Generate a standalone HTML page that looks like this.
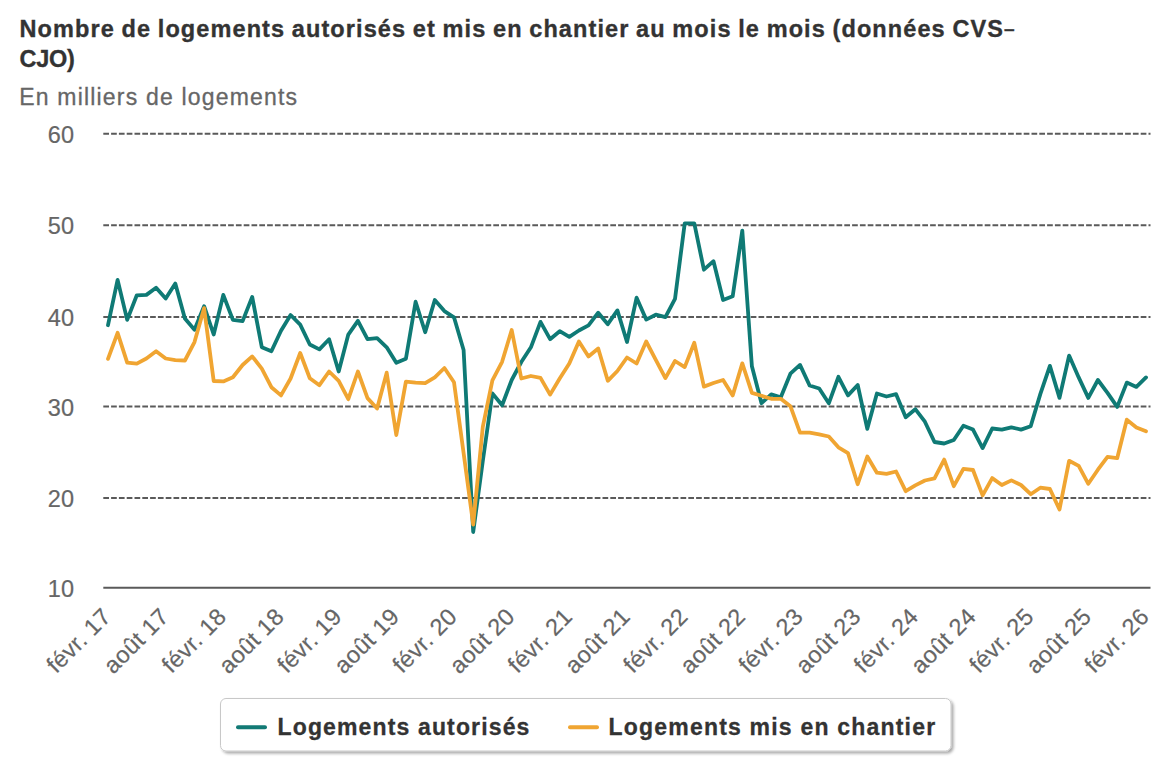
<!DOCTYPE html>
<html><head><meta charset="utf-8"><style>
html,body{margin:0;padding:0;background:#fff;width:1170px;height:780px;overflow:hidden}
svg{display:block;font-family:"Liberation Sans",sans-serif}
</style></head><body>
<svg width="1170" height="780" viewBox="0 0 1170 780">
<defs><filter id="sh" x="-5%" y="-30%" width="110%" height="170%"><feGaussianBlur in="SourceAlpha" stdDeviation="1.5"/><feOffset dx="1.5" dy="2" result="b"/><feComponentTransfer><feFuncA type="linear" slope="0.35"/></feComponentTransfer><feMerge><feMergeNode/><feMergeNode in="SourceGraphic"/></feMerge></filter></defs>
<rect width="1170" height="780" fill="#fff"/>
<g font-weight="bold" font-size="23.5" fill="#333" stroke="#333" stroke-width="0.35">
<text x="19.5" y="37.2" letter-spacing="1.1" word-spacing="-1">Nombre de logements autorisés et mis en chantier au mois le mois (données CVS<tspan font-size="19" dy="-2.5">–</tspan></text>
<text x="19.5" y="67.1" letter-spacing="-0.3">CJO)</text>
</g>
<text x="19.3" y="105.3" font-size="23" fill="#666666" stroke="#666666" stroke-width="0.3" letter-spacing="1.18">En milliers de logements</text>
<g><line x1="103.3" y1="133.65" x2="1150.5" y2="133.65" stroke="#5a5a5a" stroke-width="2" stroke-dasharray="5.7,2.1"/><line x1="103.3" y1="225.2" x2="1150.5" y2="225.2" stroke="#5a5a5a" stroke-width="2" stroke-dasharray="5.7,2.1"/><line x1="103.3" y1="316.9" x2="1150.5" y2="316.9" stroke="#5a5a5a" stroke-width="2" stroke-dasharray="5.7,2.1"/><line x1="103.3" y1="406.6" x2="1150.5" y2="406.6" stroke="#5a5a5a" stroke-width="2" stroke-dasharray="5.7,2.1"/><line x1="103.3" y1="498.1" x2="1150.5" y2="498.1" stroke="#5a5a5a" stroke-width="2" stroke-dasharray="5.7,2.1"/><line x1="103.3" y1="587.8" x2="1150.5" y2="587.8" stroke="#5a5a5a" stroke-width="2"/></g>
<g font-size="23.5" fill="#666666" stroke="#666666" stroke-width="0.2"><text x="74" y="142.6" text-anchor="end">60</text><text x="74" y="234.1" text-anchor="end">50</text><text x="74" y="325.8" text-anchor="end">40</text><text x="74" y="415.5" text-anchor="end">30</text><text x="74" y="507.0" text-anchor="end">20</text><text x="74" y="596.7" text-anchor="end">10</text></g>
<g font-size="23.5" fill="#666666" stroke="#666666" stroke-width="0.2"><text transform="translate(112.5,618) rotate(-45)" text-anchor="end" letter-spacing="0.3">févr. 17</text><text transform="translate(170.2,618) rotate(-45)" text-anchor="end" letter-spacing="0.3">août 17</text><text transform="translate(227.8,618) rotate(-45)" text-anchor="end" letter-spacing="0.3">févr. 18</text><text transform="translate(285.5,618) rotate(-45)" text-anchor="end" letter-spacing="0.3">août 18</text><text transform="translate(343.2,618) rotate(-45)" text-anchor="end" letter-spacing="0.3">févr. 19</text><text transform="translate(400.8,618) rotate(-45)" text-anchor="end" letter-spacing="0.3">août 19</text><text transform="translate(458.5,618) rotate(-45)" text-anchor="end" letter-spacing="0.3">févr. 20</text><text transform="translate(516.2,618) rotate(-45)" text-anchor="end" letter-spacing="0.3">août 20</text><text transform="translate(573.8,618) rotate(-45)" text-anchor="end" letter-spacing="0.3">févr. 21</text><text transform="translate(631.5,618) rotate(-45)" text-anchor="end" letter-spacing="0.3">août 21</text><text transform="translate(689.2,618) rotate(-45)" text-anchor="end" letter-spacing="0.3">févr. 22</text><text transform="translate(746.8,618) rotate(-45)" text-anchor="end" letter-spacing="0.3">août 22</text><text transform="translate(804.5,618) rotate(-45)" text-anchor="end" letter-spacing="0.3">févr. 23</text><text transform="translate(862.2,618) rotate(-45)" text-anchor="end" letter-spacing="0.3">août 23</text><text transform="translate(919.8,618) rotate(-45)" text-anchor="end" letter-spacing="0.3">févr. 24</text><text transform="translate(977.5,618) rotate(-45)" text-anchor="end" letter-spacing="0.3">août 24</text><text transform="translate(1035.2,618) rotate(-45)" text-anchor="end" letter-spacing="0.3">févr. 25</text><text transform="translate(1092.8,618) rotate(-45)" text-anchor="end" letter-spacing="0.3">août 25</text><text transform="translate(1150.5,618) rotate(-45)" text-anchor="end" letter-spacing="0.3">févr. 26</text></g>
<polyline points="108.0,325.2 117.6,279.9 127.2,319.9 136.8,295.3 146.4,294.9 156.1,287.7 165.7,298.6 175.3,283.6 184.9,318.5 194.5,329.7 204.1,306.2 213.7,334.5 223.3,294.9 232.9,319.9 242.6,321.1 252.2,296.9 261.8,347.2 271.4,351.3 281.0,330.8 290.6,315.0 300.2,324.7 309.8,344.5 319.4,349.4 329.1,339.2 338.7,371.5 348.3,334.6 357.9,320.8 367.5,339.2 377.1,338.1 386.7,347.3 396.3,362.8 405.9,358.8 415.6,301.7 425.2,332.3 434.8,300.0 444.4,311.1 454.0,317.3 463.6,350.0 473.2,532.0 482.8,461.0 492.4,393.4 502.1,405.2 511.7,380.0 521.3,362.0 530.9,347.3 540.5,321.9 550.1,339.2 559.7,331.2 569.3,336.9 578.9,330.5 588.5,325.4 598.2,312.7 607.8,324.2 617.4,310.4 627.0,342.0 636.6,297.7 646.2,319.6 655.8,314.7 665.4,317.2 675.0,298.9 684.7,223.4 694.3,223.4 703.9,269.7 713.5,261.2 723.1,300.0 732.7,296.3 742.3,230.6 751.9,366.3 761.5,403.2 771.2,394.4 780.8,397.3 790.4,373.7 800.0,364.9 809.6,385.5 819.2,388.5 828.8,403.3 838.4,376.8 848.0,395.4 857.7,385.0 867.3,428.8 876.9,393.5 886.5,396.5 896.1,394.2 905.7,417.3 915.3,409.2 924.9,421.7 934.5,442.0 944.2,443.5 953.8,440.0 963.4,425.7 973.0,429.6 982.6,448.1 992.2,428.5 1001.8,429.6 1011.4,427.3 1021.0,429.6 1030.7,426.2 1040.3,394.1 1049.9,365.9 1059.5,397.9 1069.1,355.6 1078.7,377.4 1088.3,397.9 1097.9,380.0 1107.5,392.8 1117.2,406.9 1126.8,382.6 1136.4,386.9 1146.0,377.4" fill="none" stroke="#0f7a75" stroke-width="3.8" stroke-linejoin="round" stroke-linecap="round"/>
<polyline points="108.0,358.9 117.6,332.8 127.2,362.6 136.8,363.6 146.4,358.5 156.1,351.3 165.7,358.5 175.3,360.1 184.9,360.5 194.5,342.1 204.1,308.2 213.7,381.0 223.3,381.4 232.9,377.3 242.6,365.0 252.2,356.4 261.8,368.7 271.4,387.2 281.0,395.4 290.6,378.5 300.2,353.0 309.8,378.2 319.4,385.2 329.1,371.5 338.7,380.8 348.3,399.2 357.9,371.5 367.5,398.1 377.1,408.5 386.7,372.7 396.3,435.0 405.9,381.7 415.6,382.6 425.2,383.1 434.8,377.3 444.4,368.0 454.0,382.2 463.6,453.0 473.2,524.5 482.8,426.9 492.4,380.3 502.1,361.8 511.7,330.0 521.3,378.5 530.9,376.0 540.5,377.9 550.1,394.6 559.7,378.5 569.3,363.5 578.9,341.5 588.5,356.5 598.2,348.5 607.8,380.8 617.4,371.0 627.0,357.5 636.6,363.5 646.2,341.5 655.8,359.8 665.4,378.1 675.0,361.0 684.7,367.1 694.3,342.8 703.9,386.6 713.5,383.0 723.1,380.0 732.7,395.4 742.3,363.4 751.9,392.9 761.5,395.8 771.2,398.8 780.8,398.8 790.4,406.2 800.0,432.7 809.6,432.7 819.2,434.4 828.8,436.5 838.4,447.3 848.0,453.1 857.7,484.2 867.3,456.5 876.9,472.7 886.5,473.8 896.1,471.5 905.7,491.2 915.3,485.4 924.9,480.5 934.5,478.3 944.2,459.6 953.8,486.2 963.4,468.8 973.0,470.0 982.6,495.4 992.2,478.1 1001.8,485.0 1011.4,480.4 1021.0,485.0 1030.7,494.2 1040.3,487.7 1049.9,489.0 1059.5,509.5 1069.1,460.8 1078.7,465.9 1088.3,483.8 1097.9,469.7 1107.5,456.9 1117.2,458.2 1126.8,419.7 1136.4,427.4 1146.0,431.3" fill="none" stroke="#f0a532" stroke-width="3.8" stroke-linejoin="round" stroke-linecap="round"/>
<g>
<rect x="220.5" y="698.5" width="730.5" height="52.5" rx="5.5" ry="5.5" fill="#fff" stroke="#c8c8c8" stroke-width="1" filter="url(#sh)"/>
<line x1="238" y1="727.3" x2="265" y2="727.3" stroke="#127a75" stroke-width="4" stroke-linecap="round"/>
<line x1="570" y1="727.3" x2="597" y2="727.3" stroke="#f0a532" stroke-width="4" stroke-linecap="round"/>
<g font-weight="bold" font-size="23" fill="#333" stroke="#333" stroke-width="0.3">
<text x="277.5" y="735" letter-spacing="1.14">Logements autorisés</text>
<text x="608.5" y="735" letter-spacing="1.2">Logements mis en chantier</text>
</g>
</g>
</svg>
</body></html>
